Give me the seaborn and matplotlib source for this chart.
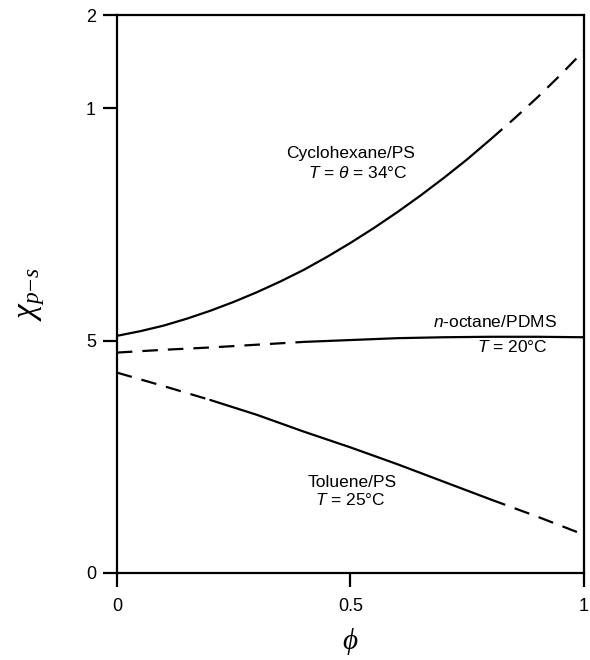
import matplotlib
matplotlib.use("Agg")
import matplotlib.pyplot as plt
import seaborn as sns
import pandas as pd

# Interaction parameter chi vs polymer volume fraction phi
phi_cyclo = [0.0, 0.05, 0.1, 0.15, 0.2, 0.25, 0.3, 0.35, 0.4, 0.45, 0.5,
             0.55, 0.6, 0.65, 0.7, 0.75, 0.8, 0.85, 0.9, 0.95, 1.0]
chi_cyclo = [0.510, 0.520, 0.532, 0.547, 0.564, 0.583, 0.604, 0.627, 0.652, 0.680, 0.710,
             0.742, 0.776, 0.812, 0.850, 0.890, 0.933, 0.977, 1.023, 1.072, 1.124]
cyclo_solid_until = 0.8

phi_octane = [0.0, 0.1, 0.2, 0.3, 0.4, 0.5, 0.6, 0.7, 0.8, 0.9, 1.0]
chi_octane = [0.474, 0.480, 0.485, 0.491, 0.497, 0.501, 0.505, 0.507, 0.508, 0.508, 0.507]
octane_solid_from = 0.4

phi_toluene = [0.0, 0.1, 0.2, 0.3, 0.4, 0.5, 0.6, 0.7, 0.8, 0.9, 1.0]
chi_toluene = [0.431, 0.402, 0.372, 0.340, 0.304, 0.270, 0.234, 0.196, 0.158, 0.121, 0.082]
toluene_solid_range = (0.2, 0.8)

x_ticks = [0, 0.5, 1]
x_tick_labels = ["0", "0.5", "1"]
y_ticks = [0, 0.5, 1, 1.2]
y_tick_labels = ["0", "5", "1", "2"]

sns.set_theme(style="ticks")
plt.rcParams["font.family"] = ["Liberation Sans", "DejaVu Sans"]
plt.rcParams["mathtext.fontset"] = "custom"
plt.rcParams["mathtext.it"] = "Liberation Serif:italic"
plt.rcParams["mathtext.rm"] = "Liberation Serif"
plt.rcParams["mathtext.sf"] = "Liberation Sans:italic"

fig = plt.figure(figsize=(5.9, 6.6), dpi=100)
ax = fig.add_axes([0.198, 0.132, 0.792, 0.845])

LW = 1.6
DASH = (0, (7, 4.5))


def segment(phis, chis, lo, hi):
    df = pd.DataFrame({"phi": phis, "chi": chis})
    return df[(df.phi >= lo - 1e-9) & (df.phi <= hi + 1e-9)]


def draw(df, dashed):
    sns.lineplot(data=df, x="phi", y="chi", ax=ax, color="black", lw=LW,
                 linestyle=DASH if dashed else "-", sort=False,
                 estimator=None, legend=False)


# Cyclohexane/PS: measured range solid, extrapolation dashed
draw(segment(phi_cyclo, chi_cyclo, 0, cyclo_solid_until), False)
draw(segment(phi_cyclo, chi_cyclo, cyclo_solid_until, 1), True)

# n-octane/PDMS
draw(segment(phi_octane, chi_octane, 0, octane_solid_from), True)
draw(segment(phi_octane, chi_octane, octane_solid_from, 1), False)

# Toluene/PS
lo, hi = toluene_solid_range
draw(segment(phi_toluene, chi_toluene, 0, lo), True)
draw(segment(phi_toluene, chi_toluene, lo, hi), False)
draw(segment(phi_toluene, chi_toluene, hi, 1), True)

ax.set_xlim(0, 1)
ax.set_ylim(0, 1.197)
ax.set_xticks(x_ticks)
ax.set_xticklabels(x_tick_labels)
ax.set_yticks(y_ticks)
ax.set_yticklabels(y_tick_labels)

for s in ax.spines.values():
    s.set_linewidth(1.6)
    s.set_color("black")
ax.tick_params(axis="both", direction="out", length=10, width=1.6,
               labelsize=13, pad=5, colors="black")
ax.tick_params(axis="x", pad=8)

ax.set_xlabel(r"$\phi$", fontsize=21, color="black")
ax.set_ylabel(r"$\chi_{p\!-\!s}$", fontsize=24, color="black")
ax.xaxis.set_label_coords(0.5, -0.095)
ax.yaxis.set_label_coords(-0.15, 0.50)

txt = dict(fontsize=12.5, ha="center", va="center", color="black")
ax.text(0.501, 0.903, "Cyclohexane/PS", **txt)
ax.text(0.516, 0.861, r"$\mathsf{T}$ = $\mathsf{\theta}$ = 34°C", **txt)
ax.text(0.81, 0.539, r"$\mathsf{n}$-octane/PDMS", **txt)
ax.text(0.846, 0.485, r"$\mathsf{T}$ = 20°C", **txt)
ax.text(0.503, 0.195, "Toluene/PS", **txt)
ax.text(0.499, 0.157, r"$\mathsf{T}$ = 25°C", **txt)

fig.savefig("out.png", dpi=100)
